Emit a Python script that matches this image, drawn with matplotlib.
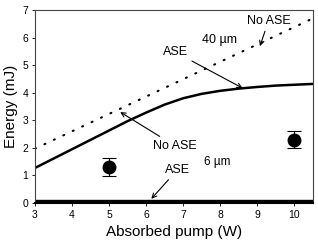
import matplotlib
matplotlib.use("Agg")
import matplotlib.pyplot as plt

plt.rcParams["font.family"] = ["Liberation Sans", "DejaVu Sans"]

# 40 um fibre, no ASE (dotted) and with ASE (solid)
pump_no_ase = [3.0, 10.5]
energy_no_ase_40 = [1.97, 6.7]

pump_ase = [3.0, 4.0, 5.0, 5.5, 6.0, 6.5, 7.0, 7.5, 8.0, 8.5, 9.0, 9.5, 10.0, 10.5]
energy_ase_40 = [1.27, 1.95, 2.63, 2.97, 3.28, 3.57, 3.8, 3.96, 4.07, 4.15, 4.21, 4.26, 4.29, 4.32]

# 6 um fibre, both curves sit on the bottom
pump_6 = [3.0, 10.5]
energy_no_ase_6 = [0.11, 0.11]
energy_ase_6 = [0.08, 0.08]

# measured points
meas_pump = [5, 10]
meas_energy = [1.3, 2.3]
meas_err = [0.33, 0.3]

fig = plt.figure(figsize=(3.18, 2.46), dpi=100)
ax = fig.add_axes([0.110, 0.175, 0.874, 0.784])

ax.plot(pump_no_ase, energy_no_ase_40, color="black", lw=1.5, ls=(0, (0.5, 4.5)),
        dash_capstyle="round")
ax.plot(pump_ase, energy_ase_40, color="black", lw=1.8)
ax.plot(pump_6, energy_no_ase_6, color="black", lw=1.0)
ax.plot(pump_6, energy_ase_6, color="black", lw=1.8)
ax.errorbar(meas_pump, meas_energy, yerr=meas_err, fmt="o", color="black",
            ms=9, elinewidth=0.8, capsize=5, capthick=0.8)

ax.set_xlim(3, 10.5)
ax.set_ylim(0, 7)
ax.set_xticks(range(3, 11))
ax.set_yticks(range(0, 8))
ax.tick_params(labelsize=7.5, length=2, width=0.6, color="black", pad=3)
for s in ax.spines.values():
    s.set_linewidth(0.8)
    s.set_color("#444444")
ax.spines["bottom"].set_linewidth(1.5)
ax.spines["bottom"].set_color("black")

ax.set_xlabel("Absorbed pump (W)", fontsize=11, labelpad=4)
ax.set_ylabel("Energy (mJ)", fontsize=11, labelpad=3)

arrow = dict(arrowstyle="->", color="black", lw=0.8, shrinkA=1, shrinkB=0,
             mutation_scale=8)
ax.annotate("No ASE", xy=(9.07, 5.69), xytext=(9.3, 6.6), fontsize=9,
            ha="center", va="center", arrowprops=arrow)
ax.text(7.97, 5.91, "40 \u00b5m", fontsize=9, ha="center", va="center")
ax.annotate("ASE", xy=(8.6, 4.17), xytext=(6.79, 5.47), fontsize=9,
            ha="center", va="center", arrowprops=arrow)
ax.annotate("No ASE", xy=(5.3, 3.3), xytext=(6.78, 2.07), fontsize=9,
            ha="center", va="center", arrowprops=arrow)
ax.text(7.92, 1.49, "6 \u00b5m", fontsize=8.5, ha="center", va="center")
ax.annotate("ASE", xy=(6.14, 0.15), xytext=(6.84, 1.2), fontsize=9,
            ha="center", va="center", arrowprops=arrow)

fig.savefig("out.png", dpi=100)
